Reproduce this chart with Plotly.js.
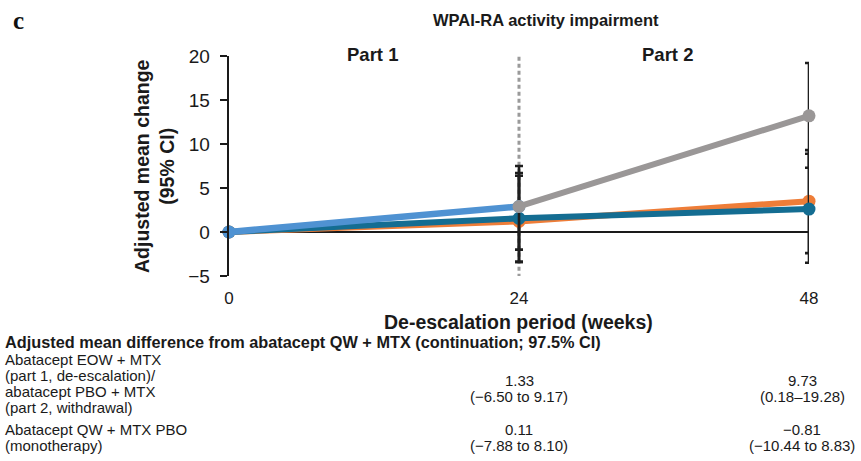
<!DOCTYPE html>
<html>
<head>
<meta charset="utf-8">
<script src="https://cdn.plot.ly/plotly-3.0.1.min.js"></script>
<style>html,body{margin:0;padding:0;background:#fff;}#chart{width:861px;height:461px;}</style>
</head>
<body>
<div id="chart"></div>
<script>
// ---- data ----
const xTickVals = [0, 24, 48];
const xTickText = ["0", "24", "48"];
const yTickVals = [-5, 0, 5, 10, 15, 20];

// Abatacept EOW + MTX (part 1, de-escalation)
const eowWeeks = [0, 24];
const eowMean = [0, 2.9];
const eowHi = [0, 7.5];
const eowLo = [0, -2.0];

// Abatacept PBO + MTX (part 2, withdrawal)
const pboWeeks = [24, 48];
const pboMean = [2.9, 13.2];
const pboHi = [2.9, 19.2];
const pboLo = [2.9, 7.3];

// Abatacept QW + MTX (continuation)
const qwWeeks = [0, 24, 48];
const qwMean = [0, 1.2, 3.5];
const qwHi = [0, 6.4, 9.3];
const qwLo = [0, -3.4, -2.4];

// Abatacept QW + MTX PBO (monotherapy)
const monoWeeks = [0, 24, 48];
const monoMean = [0, 1.55, 2.6];
const monoHi = [0, 6.7, 8.9];
const monoLo = [0, -3.4, -3.5];

// table
const tableHeader = "Adjusted mean difference from abatacept QW + MTX (continuation; 97.5% CI)";
const row1Label = ["Abatacept EOW + MTX", "(part 1, de-escalation)/", "abatacept PBO + MTX", "(part 2, withdrawal)"];
const row1Wk24 = ["1.33", "(\u22126.50 to 9.17)"];
const row1Wk48 = ["9.73", "(0.18\u201319.28)"];
const row2Label = ["Abatacept QW + MTX PBO", "(monotherapy)"];
const row2Wk24 = ["0.11", "(\u22127.88 to 8.10)"];
const row2Wk48 = ["\u22120.81", "(\u221210.44 to 8.83)"];

// ---- layout helpers (pixel -> paper) ----
const L = 229, R = 809, T = 56, B = 276;
const px = p => (p - L) / (R - L);
const py = p => (B - p) / (B - T);
const FONT = "Liberation Sans, Arial, Helvetica, sans-serif";

const plus = (hi, m) => hi.map((h, i) => h - m[i]);
const minus = (lo, m) => m.map((v, i) => v - lo[i]);

function series(x, y, hi, lo, color, lw) {
  return {
    x: x, y: y, type: "scatter", mode: "lines+markers",
    line: {color: color, width: lw},
    marker: {color: color, size: 13},
    error_y: {type: "data", symmetric: false, array: plus(hi, y), arrayminus: minus(lo, y),
              color: "#1e1e1e", thickness: 2.6, width: 4},
    cliponaxis: false, hoverinfo: "skip", showlegend: false
  };
}

const traces = [
  series(qwWeeks, qwMean, qwHi, qwLo, "#ee7d38", 6),
  series(monoWeeks, monoMean, monoHi, monoLo, "#146d92", 6),
  series(eowWeeks, eowMean, eowHi, eowLo, "#4f92d2", 6.5),
  series(pboWeeks, pboMean, pboHi, pboLo, "#9a9797", 6)
];

const ann = [];
function txt(text, x, y, size, opts) {
  ann.push(Object.assign({
    text: text, xref: "paper", yref: "paper", x: px(x), y: py(y),
    showarrow: false, xanchor: "center", yanchor: "middle",
    font: {family: FONT, size: size, color: "#1a1a1a"}
  }, opts || {}));
}
const b = s => "<b>" + s + "</b>";

txt(b("c"), 11, 21, 25, {xanchor: "left", font: {family: "Liberation Serif, Times New Roman, serif", size: 25, color: "#111"}});
txt(b("WPAI-RA activity impairment"), 546, 20, 16.5);
txt(b("Part 1"), 372, 55, 18.5);
txt(b("Part 2"), 667, 55, 18.5);
txt(b("Adjusted mean change<br>(95% CI)"), 154, 166, 19.5, {textangle: -90});
txt(b("De-escalation period (weeks)"), 518, 322, 19.5);

txt(b(tableHeader), 3, 342, 16.3, {xanchor: "left"});
const rowY1 = [359, 375, 391, 407];
row1Label.forEach((s, i) => txt(s, 3, rowY1[i], 15, {xanchor: "left"}));
txt(row1Wk24[0], 519, 380, 15); txt(row1Wk24[1], 519, 396.5, 15);
txt(row1Wk48[0], 802, 380, 15); txt(row1Wk48[1], 802, 396.5, 15);
const rowY2 = [429, 445];
row2Label.forEach((s, i) => txt(s, 3, rowY2[i], 15, {xanchor: "left"}));
txt(row2Wk24[0], 519, 429, 15); txt(row2Wk24[1], 519, 445, 15);
txt(row2Wk48[0], 802, 429, 15); txt(row2Wk48[1], 802, 445, 15);

const layout = {
  width: 861, height: 461,
  margin: {l: L, r: 861 - R, t: T, b: 461 - B, pad: 0},
  paper_bgcolor: "#fff", plot_bgcolor: "#fff",
  showlegend: false,
  xaxis: {
    range: [0, 48], tickvals: xTickVals, ticktext: xTickText,
    showgrid: false, zeroline: false, showline: false, ticks: "",
    ticklabelstandoff: 10,
    tickfont: {family: FONT, size: 17, color: "#1a1a1a"}
  },
  yaxis: {
    range: [-5, 20], tickvals: yTickVals,
    showgrid: false, zeroline: true, zerolinecolor: "#1a1a1a", zerolinewidth: 2.2,
    showline: true, linecolor: "#1a1a1a", linewidth: 2.4,
    ticks: "outside", ticklen: 7, tickwidth: 2, tickcolor: "#1a1a1a",
    ticklabelstandoff: 6,
    tickfont: {family: FONT, size: 19, color: "#1a1a1a"}
  },
  shapes: [{
    type: "line", xref: "x", yref: "y", x0: 24, x1: 24, y0: -5.2, y1: 20.1,
    line: {color: "#9a9a9a", width: 3, dash: "4px,3px"}, layer: "below"
  }],
  annotations: ann
};

Plotly.newPlot("chart", traces, layout, {staticPlot: true, displayModeBar: false});
</script>
</body>
</html>
